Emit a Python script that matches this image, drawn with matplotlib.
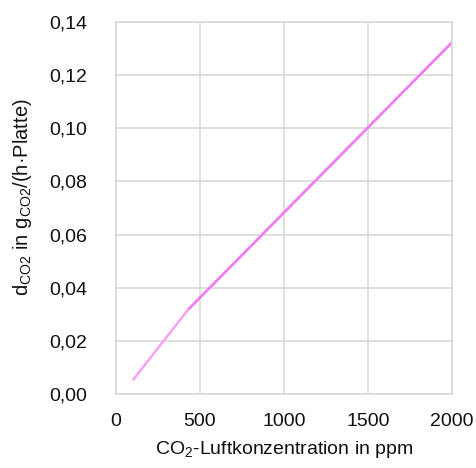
import matplotlib
matplotlib.use("Agg")
import matplotlib.pyplot as plt
from matplotlib import font_manager

names = {f.name for f in font_manager.fontManager.ttflist}
fam = "Liberation Sans Narrow" if "Liberation Sans Narrow" in names else "Liberation Sans"
plt.rcParams['font.family'] = [fam, 'DejaVu Sans']
plt.rcParams['mathtext.fontset'] = 'custom'
plt.rcParams['mathtext.rm'] = fam
plt.rcParams['mathtext.it'] = fam

# data
x_low = [100, 430]
y_low = [0.0052, 0.0318]
x_high = [430, 1000, 1500, 2000]
y_high = [0.0318, 0.0683, 0.1003, 0.1323]
xticks = [0, 500, 1000, 1500, 2000]
yticks = [0.00, 0.02, 0.04, 0.06, 0.08, 0.10, 0.12, 0.14]
ytick_labels = ["0,00", "0,02", "0,04", "0,06", "0,08", "0,10", "0,12", "0,14"]

fs = 14
fig = plt.figure(figsize=(4.76, 4.68), dpi=100)
ax = fig.add_axes([116/476, (468-394)/468, (452-116)/476, (394-22)/468])
ax.plot(x_low, y_low, color='#F5A3F0', lw=1.8, solid_capstyle='butt')
ax.plot(x_high, y_high, color='#EE7FEE', lw=2.0, solid_capstyle='butt')
ax.set_xlim(0, 2000)
ax.set_ylim(0, 0.14)
ax.set_xticks(xticks)
ax.set_xticklabels([str(t) for t in xticks])
ax.set_yticks(yticks)
ax.set_yticklabels(ytick_labels)
ax.grid(True, color='#D9D9D9', lw=1.2)
ax.set_axisbelow(True)
for s in ax.spines.values():
    s.set_color('#D9D9D9')
    s.set_linewidth(1.2)
ax.tick_params(length=0, labelsize=fs, colors='#111111')
ax.tick_params(axis='y', pad=21)
ax.tick_params(axis='x', pad=14)
ax.set_xlabel(r'CO$_{2}$-Luftkonzentration in ppm', fontsize=fs, color='#111111', labelpad=6)
ax.set_ylabel(r'd$_{\mathregular{CO2}}$ in g$_{\mathregular{CO2}}$/(h·Platte)', fontsize=fs + 0.5, color='#111111')
ax.yaxis.set_label_coords(-0.245, 0.53)
fig.savefig('out.png', dpi=100)
